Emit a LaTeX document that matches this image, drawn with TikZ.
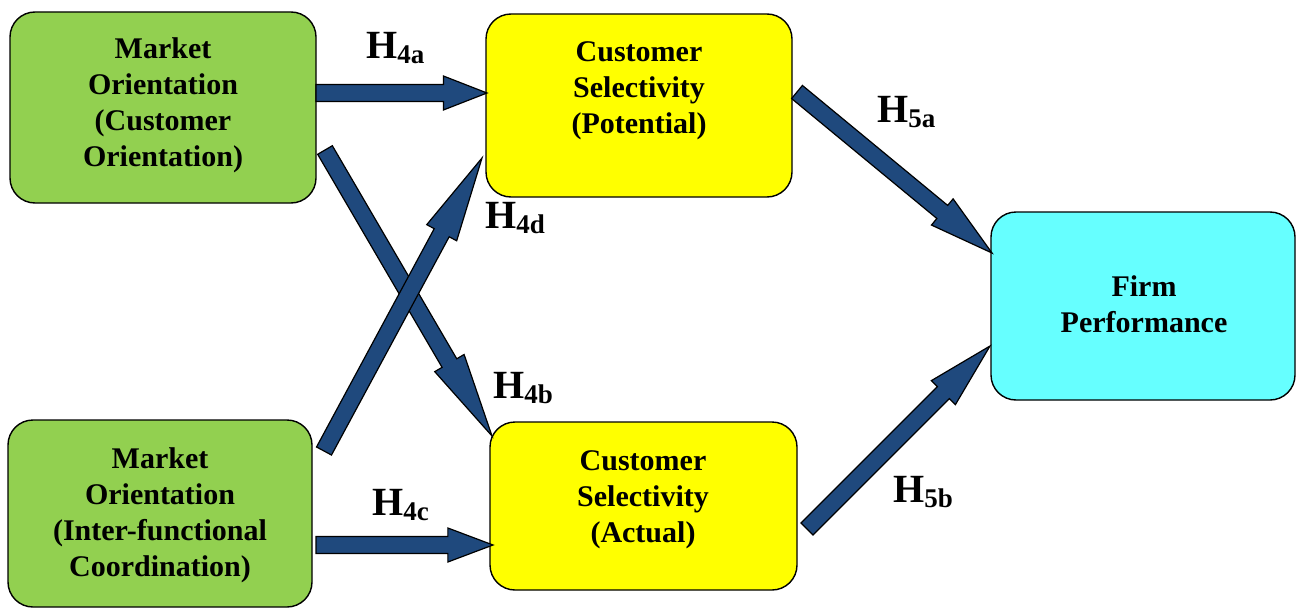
\documentclass[tikz,border=0pt]{standalone}
\usepackage{fontspec}
\setmainfont{Liberation Serif}
\usetikzlibrary{calc}

\definecolor{moGreen}{HTML}{92D050}
\definecolor{csYellow}{HTML}{FFFF00}
\definecolor{fpCyan}{HTML}{66FFFF}
\definecolor{arrowBlue}{HTML}{1F497D}

% block arrow from #1 to #2: 17pt shaft, 34pt head, head length a quarter of the arrow
\newcommand{\blockarrow}[2]{%
  \coordinate (ba-h) at ($(#2)!0.255!(#1)$);
  \filldraw[arrowbody]
    ($(#1)!8.5pt!90:(#2)$) -- ($(ba-h)!8.5pt!90:(#2)$) -- ($(ba-h)!17pt!90:(#2)$) -- (#2)
    -- ($(ba-h)!17pt!-90:(#2)$) -- ($(ba-h)!8.5pt!-90:(#2)$) -- ($(#1)!8.5pt!-90:(#2)$) -- cycle;
}
% hypothesis label H with subscript
\newcommand{\hyp}[1]{{\fontsize{40}{40}\selectfont H}\raisebox{-5pt}{\fontsize{27}{27}\selectfont #1}}

\begin{document}
\begin{tikzpicture}[x=1pt,y=-1pt,
  box/.style={draw=black, line width=1.4pt, rounded corners=25pt, inner sep=0pt, outer sep=0pt},
  boxtext/.style={align=center, inner sep=0pt, font=\bfseries\fontsize{30}{36}\selectfont},
  hyplabel/.style={anchor=base west, inner sep=0pt, font=\bfseries},
  arrowbody/.style={fill=arrowBlue, draw=black, line width=1.2pt, line join=miter}]

\useasboundingbox (0,0) rectangle (1297,610);

% boxes
\node[box, fill=moGreen, minimum width=306pt, minimum height=191pt] (mo1) at (163,107.5) {};
\node[box, fill=moGreen, minimum width=304pt, minimum height=187pt] (mo2) at (160,513.5) {};
\node[box, fill=csYellow, minimum width=306pt, minimum height=183pt] (cs1) at (639,105.5) {};
\node[box, fill=csYellow, minimum width=307pt, minimum height=168pt] (cs2) at (643.5,506) {};
\node[box, fill=fpCyan, minimum width=304pt, minimum height=188pt] (fp) at (1143,306) {};

% box texts
\node[boxtext] (mo1-t) at (163,105.5) {Market\\Orientation\\(Customer\\Orientation)};
\node[boxtext] (mo2-t) at (160,515) {Market\\Orientation\\(Inter-functional\\Coordination)};
\node[boxtext] (cs1-t) at (639,91) {Customer\\Selectivity\\(Potential)};
\node[boxtext] (cs2-t) at (643,499.5) {Customer\\Selectivity\\(Actual)};
\node[boxtext] (fp-t) at (1144,304.5) {Firm\\Performance};

% arrow end points
\coordinate (a-t) at (316,93);   \coordinate (a-h) at (487,93);
\coordinate (b-t) at (325,150);  \coordinate (b-h) at (492,436);
\coordinate (c-t) at (316,545);  \coordinate (c-h) at (493,545);
\coordinate (d-t) at (324,451);  \coordinate (d-h) at (482,158);
\coordinate (e-t) at (797,92);   \coordinate (e-h) at (992,253);
\coordinate (f-t) at (807,529);  \coordinate (f-h) at (990,346);

% connectors
\blockarrow{a-t}{a-h}
\blockarrow{c-t}{c-h}
\blockarrow{b-t}{b-h}
\blockarrow{d-t}{d-h}
\blockarrow{e-t}{e-h}
\blockarrow{f-t}{f-h}

% hypothesis labels
\node[hyplabel] (h4a) at (366,59) {\hyp{4a}};
\node[hyplabel] (h4b) at (493,398) {\hyp{4b}};
\node[hyplabel] (h4c) at (372,515) {\hyp{4c}};
\node[hyplabel] (h4d) at (485,228) {\hyp{4d}};
\node[hyplabel] (h5a) at (877,122) {\hyp{5a}};
\node[hyplabel] (h5b) at (893,502) {\hyp{5b}};

\end{tikzpicture}
\end{document}
